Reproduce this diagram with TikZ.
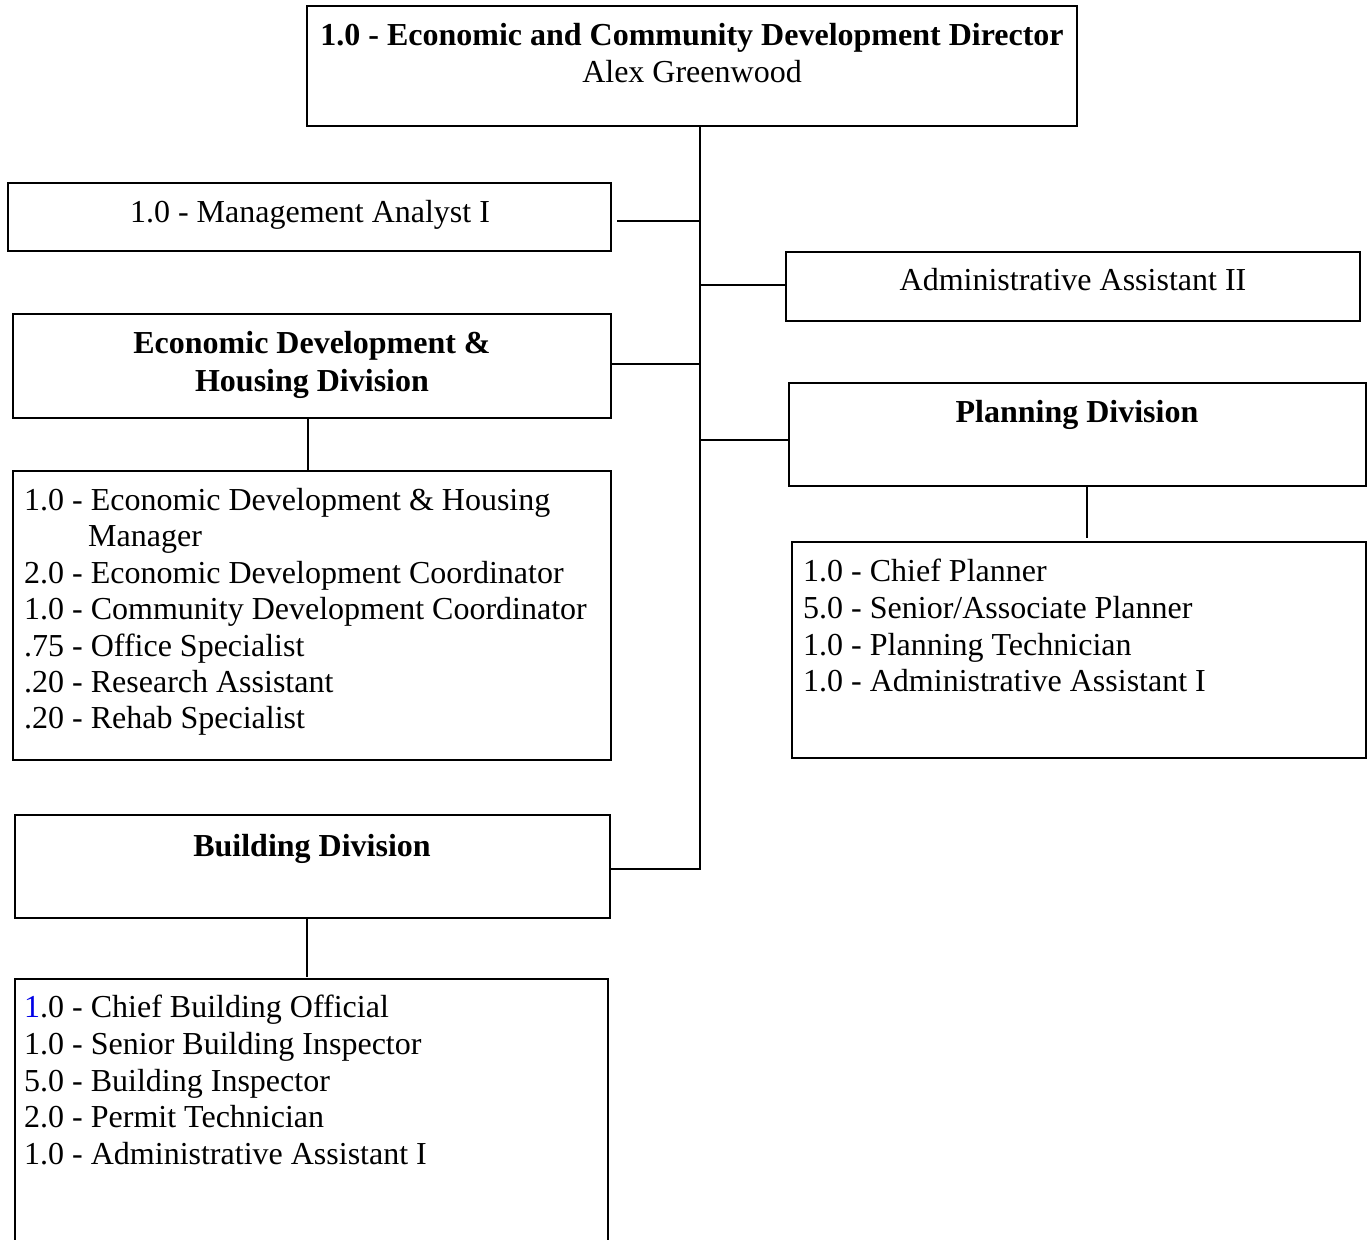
\documentclass[tikz,border=0pt]{standalone}
\usepackage{fontspec}
\setmainfont{Liberation Serif}
\definecolor{numblue}{RGB}{0,0,230}
\begin{document}
\begin{tikzpicture}[x=1pt,y=-1pt,
  box/.style={draw, line width=2.8pt, inner sep=0pt, outer sep=0pt, anchor=north west},
  link/.style={line width=1.6pt},
  txt/.style={inner sep=0pt, font=\fontsize{32}{37}\selectfont},
  ltxt/.style={txt, anchor=base west},
  ctxt/.style={txt, anchor=base},
  btxt/.style={txt, anchor=base, font=\fontsize{32}{37}\selectfont\bfseries}]
\useasboundingbox (0,0) rectangle (1369,1240);
\clip (0,0) rectangle (1369,1240);

% boxes
\node[box, minimum width=770, minimum height=120] (top) at (307,6) {};
\node[box, minimum width=603, minimum height=68] (mgr) at (8,183) {};
\node[box, minimum width=574, minimum height=69] (adm) at (786,252) {};
\node[box, minimum width=598, minimum height=104] (hous) at (13,314) {};
\node[box, minimum width=577, minimum height=103] (plan) at (789,383) {};
\node[box, minimum width=574, minimum height=216] (plist) at (792,542) {};
\node[box, minimum width=598, minimum height=289] (hlist) at (13,471) {};
\node[box, minimum width=595, minimum height=103] (bld) at (15,815) {};
\node[box, minimum width=593, minimum height=300] (blist) at (15,979) {};

% texts
\node[btxt] (topA) at (692,45) {1.0 - Economic and Community Development Director};
\node[ctxt] (topB) at (692,82) {Alex Greenwood};
\node[ctxt] (mgrT) at (310,222) {1.0 - Management Analyst I};
\node[ctxt] (admT) at (1073,290) {Administrative Assistant II};
\node[btxt] (housA) at (312,353) {Economic Development \&};
\node[btxt] (housB) at (312,391) {Housing Division};
\node[btxt] (planT) at (1077,422) {Planning Division};
\node[btxt] (bldT) at (312,856) {Building Division};

\node[ltxt] (h1) at (24,510) {1.0 - Economic Development \& Housing};
\node[ltxt] (h1b) at (88,546) {Manager};
\node[ltxt] (h2) at (24,583) {2.0 - Economic Development Coordinator};
\node[ltxt] (h3) at (24,619) {1.0 - Community Development Coordinator};
\node[ltxt] (h4) at (24,656) {.75 - Office Specialist};
\node[ltxt] (h5) at (24,692) {.20 - Research Assistant};
\node[ltxt] (h6) at (24,728) {.20 - Rehab Specialist};

\node[ltxt] (p1) at (803,581) {1.0 - Chief Planner};
\node[ltxt] (p2) at (803,618) {5.0 - Senior/Associate Planner};
\node[ltxt] (p3) at (803,655) {1.0 - Planning Technician};
\node[ltxt] (p4) at (803,691) {1.0 - Administrative Assistant I};

\node[ltxt] (b1) at (24,1017) {\textcolor{numblue}{1}.0 - Chief Building Official};
\node[ltxt] (b2) at (24,1054) {1.0 - Senior Building Inspector};
\node[ltxt] (b3) at (24,1091) {5.0 - Building Inspector};
\node[ltxt] (b4) at (24,1127) {2.0 - Permit Technician};
\node[ltxt] (b5) at (24,1164) {1.0 - Administrative Assistant I};

% trunk and branches
\coordinate (trunk) at (700,870);
\draw[link] (top.south -| trunk) -- (trunk);
\coordinate (mgrL) at (617,221);
\draw[link] (mgrL) -- (mgrL -| trunk);
\coordinate (admY) at (0,285);
\draw[link] (trunk |- admY) -- (adm.west |- admY);
\coordinate (housY) at (0,364);
\draw[link] (hous.east |- housY) -- (trunk |- housY);
\coordinate (planY) at (0,440);
\draw[link] (trunk |- planY) -- (plan.west |- planY);
\coordinate (bldY) at (0,869);
\draw[link] (bld.east |- bldY) -- (trunk |- bldY);

% drops to staff lists
\coordinate (hx) at (308,0);
\coordinate (px) at (1087,0);
\coordinate (bx) at (307,0);
\draw[link] (hous.south -| hx) -- (hlist.north -| hx);
\draw[link] (plan.south -| px) -- ([yshift=4pt]plist.north -| px);
\draw[link] (bld.south -| bx) -- ([yshift=2pt]blist.north -| bx);
\end{tikzpicture}
\end{document}
